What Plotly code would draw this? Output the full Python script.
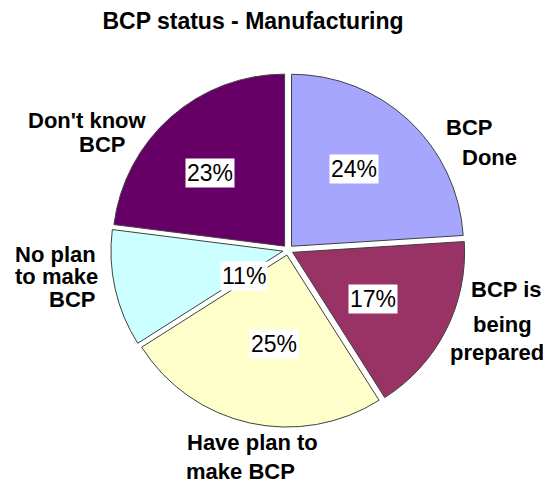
import math
import plotly.graph_objects as go

# ---- data ----
categories = ["BCP Done", "BCP is being prepared", "Have plan to make BCP",
              "No plan to make BCP", "Don't know BCP"]
values = [24, 17, 25, 11, 23]
title_text = "BCP status - Manufacturing"
label_lines = [["BCP", "Done"], ["BCP is", "being", "prepared"], ["Have plan to", "make BCP"],
               ["No plan", "to make", "BCP"], ["Don't know", "BCP"]]

# ---- style / layout ----
colors = ["#A6A6FF", "#993366", "#FFFFCC", "#CCFFFF", "#660066"]
WIN_W, WIN_H = 551, 483
BODY = 8                               # default page margin around the plot div
W, H = WIN_W - BODY, WIN_H - BODY      # figure size so it fits the window
cx, cy = 288, 250                      # pie centre in window pixels
R = 172                                # pie radius in pixels
PULL = 0.03
pct_dist = [0.61, 0.57, 0.55, 0.30, 0.64]     # radial placement of % labels (fraction of R)
pct_turn = [-4, 3, -4, -18, -4]               # angular nudge of % labels (deg)
# per-line label placement: (x, y-centre, xanchor) in window pixels
line_pos = [[(469, 127, "center"), (489, 157, "center")],
            [(506, 289, "center"), (502, 324, "center"), (497, 352, "center")],
            [(252, 442, "center"), (240, 471, "center")],
            [(98, 254, "right"), (100, 276, "right"), (97, 299, "right")],
            [(87, 120, "center"), (102, 145, "center")]]
LABEL_FONT = dict(family="Liberation Sans, Arial", size=22, color="black")
PCT_FONT = dict(family="Liberation Sans, Arial", size=23, color="black")


def px2paper(x, y):
    return (x - BODY) / W, 1 - (y - BODY) / H


half = R * (1 + PULL)
x0, y1 = px2paper(cx - half, cy - half)
x1, y0 = px2paper(cx + half, cy + half)

fig = go.Figure(go.Pie(
    labels=categories, values=values, sort=False, direction="clockwise",
    rotation=0, marker=dict(colors=colors, line=dict(color="#404040", width=1)),
    pull=[PULL] * len(values), textinfo="none", hoverinfo="label+percent",
    domain=dict(x=[x0, x1], y=[y0, y1]), showlegend=False,
))

annotations = []
total = sum(values)
cum = 0
for i, v in enumerate(values):
    mid = (cum + v / 2) / total * 360 + pct_turn[i]
    cum += v
    rr = R * pct_dist[i]
    ax, ay = px2paper(cx + rr * math.sin(math.radians(mid)),
                      cy - rr * math.cos(math.radians(mid)))
    annotations.append(dict(
        x=ax, y=ay, xref="paper", yref="paper", showarrow=False,
        xanchor="center", yanchor="middle",
        text=f"{round(v / total * 100)}%", bgcolor="white", borderpad=1,
        font=PCT_FONT))
    for line, (lx, ly, xa) in zip(label_lines[i], line_pos[i]):
        bx, by = px2paper(lx, ly)
        annotations.append(dict(
            x=bx, y=by, xref="paper", yref="paper", showarrow=False,
            text=f"<b>{line}</b>", xanchor=xa, yanchor="middle", font=LABEL_FONT))

tx, ty = px2paper(253, 21)
fig.update_layout(
    width=W, height=H, margin=dict(l=0, r=0, t=0, b=0),
    paper_bgcolor="white", plot_bgcolor="white",
    title=dict(text=f"<b>{title_text}</b>", x=tx, xanchor="center",
               y=ty, yanchor="middle",
               font=dict(family="Liberation Sans, Arial", size=23, color="black")),
    annotations=annotations,
)

fig.write_html("out.html")
